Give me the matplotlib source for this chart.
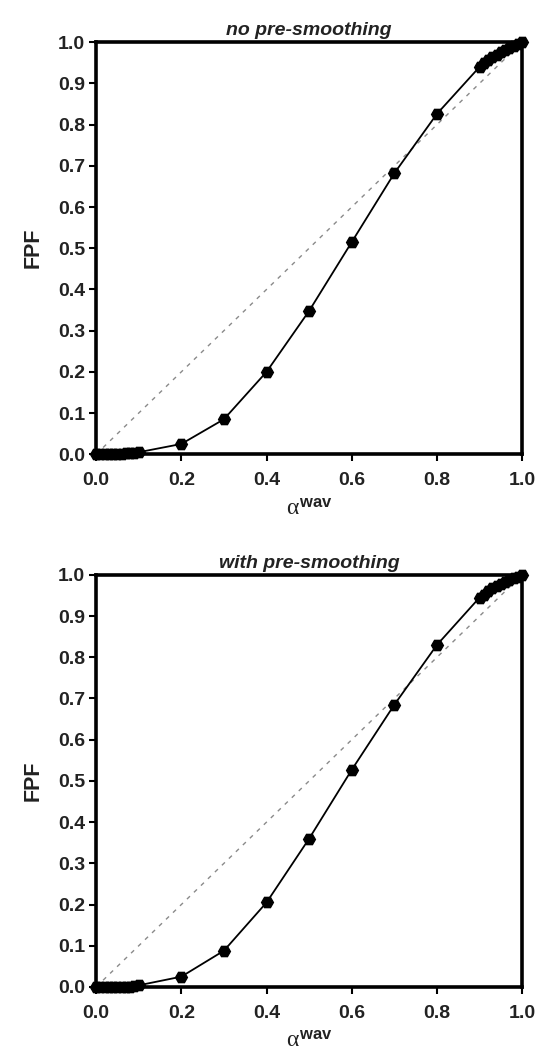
import matplotlib
matplotlib.use("Agg")
import matplotlib.pyplot as plt

plt.rcParams['font.family'] = ['Liberation Sans', 'DejaVu Sans']
plt.rcParams['mathtext.fontset'] = 'custom'
plt.rcParams['mathtext.rm'] = 'Liberation Serif'
plt.rcParams['mathtext.it'] = 'Liberation Serif'
plt.rcParams['mathtext.bf'] = 'Liberation Sans:bold'

# alpha values
alpha_vals = [0.0, 0.01, 0.02, 0.03, 0.04, 0.05, 0.06, 0.07, 0.08, 0.09,
              0.1, 0.2, 0.3, 0.4, 0.5, 0.6, 0.7, 0.8, 0.9,
              0.91, 0.92, 0.93, 0.94, 0.95, 0.96, 0.97, 0.98, 0.99, 1.0]

fpf_no_smooth = [0.0, 0.0, 0.0, 0.0, 0.0, 0.0, 0.001, 0.002, 0.003, 0.004,
                 0.005, 0.025, 0.085, 0.200, 0.348, 0.515, 0.682, 0.826, 0.940,
                 0.950, 0.957, 0.965, 0.970, 0.976, 0.981, 0.986, 0.991, 0.996, 1.0]

fpf_with_smooth = [0.0, 0.0, 0.0, 0.0, 0.0, 0.0, 0.0, 0.0, 0.001, 0.002,
                   0.004, 0.025, 0.088, 0.205, 0.360, 0.527, 0.685, 0.830, 0.945,
                   0.952, 0.960, 0.967, 0.973, 0.978, 0.983, 0.988, 0.992, 0.996, 1.0]

diag = [0.0, 1.0]

titles = ['no pre-smoothing', 'with pre-smoothing']
ticks = [0.0, 0.1, 0.2, 0.3, 0.4, 0.5, 0.6, 0.7, 0.8, 0.9, 1.0]
xticks = [0.0, 0.2, 0.4, 0.6, 0.8, 1.0]

fig = plt.figure(figsize=(5.4, 10.54), dpi=100)
ax1 = fig.add_axes([0.178, 0.569, 0.789, 0.391])
ax2 = fig.add_axes([0.178, 0.0636, 0.789, 0.391])

for ax, fpf, title in [(ax1, fpf_no_smooth, titles[0]), (ax2, fpf_with_smooth, titles[1])]:
    ax.plot(diag, diag, color='#8a8a8a', lw=1.0, ls=(0, (3, 4)), zorder=1)
    ax.plot(alpha_vals, fpf, color='black', lw=1.3, marker='H', markersize=8.5,
            markerfacecolor='black', markeredgecolor='black', clip_on=False, zorder=3)
    ax.set_xlim(0, 1)
    ax.set_ylim(0, 1)
    ax.set_xticks(xticks)
    ax.set_yticks(ticks)
    ax.set_xticklabels([f'{t:.1f}' for t in xticks])
    ax.set_yticklabels([f'{t:.1f}' for t in ticks])
    for s in ax.spines.values():
        s.set_linewidth(2.6)
    ax.tick_params(direction='out', length=5, width=1.5, labelsize=14,
                   labelcolor='#222222', color='black')
    ax.tick_params(axis='x', pad=8)
    ax.tick_params(axis='y', pad=3)
    for lab in ax.get_xticklabels() + ax.get_yticklabels():
        lab.set_fontweight('bold')
    ax.set_ylabel('FPF', fontsize=15.5, fontweight='bold', labelpad=10, color='#222222')
    ax.set_xlabel(r'$\alpha^{\mathbf{wav}}$', fontsize=17, labelpad=6, color='#222222')
    ax.set_title(title, fontsize=14, fontweight='bold', style='italic', pad=5,
                 color='#222222')

fig.savefig('out.png', dpi=100, facecolor='white')
